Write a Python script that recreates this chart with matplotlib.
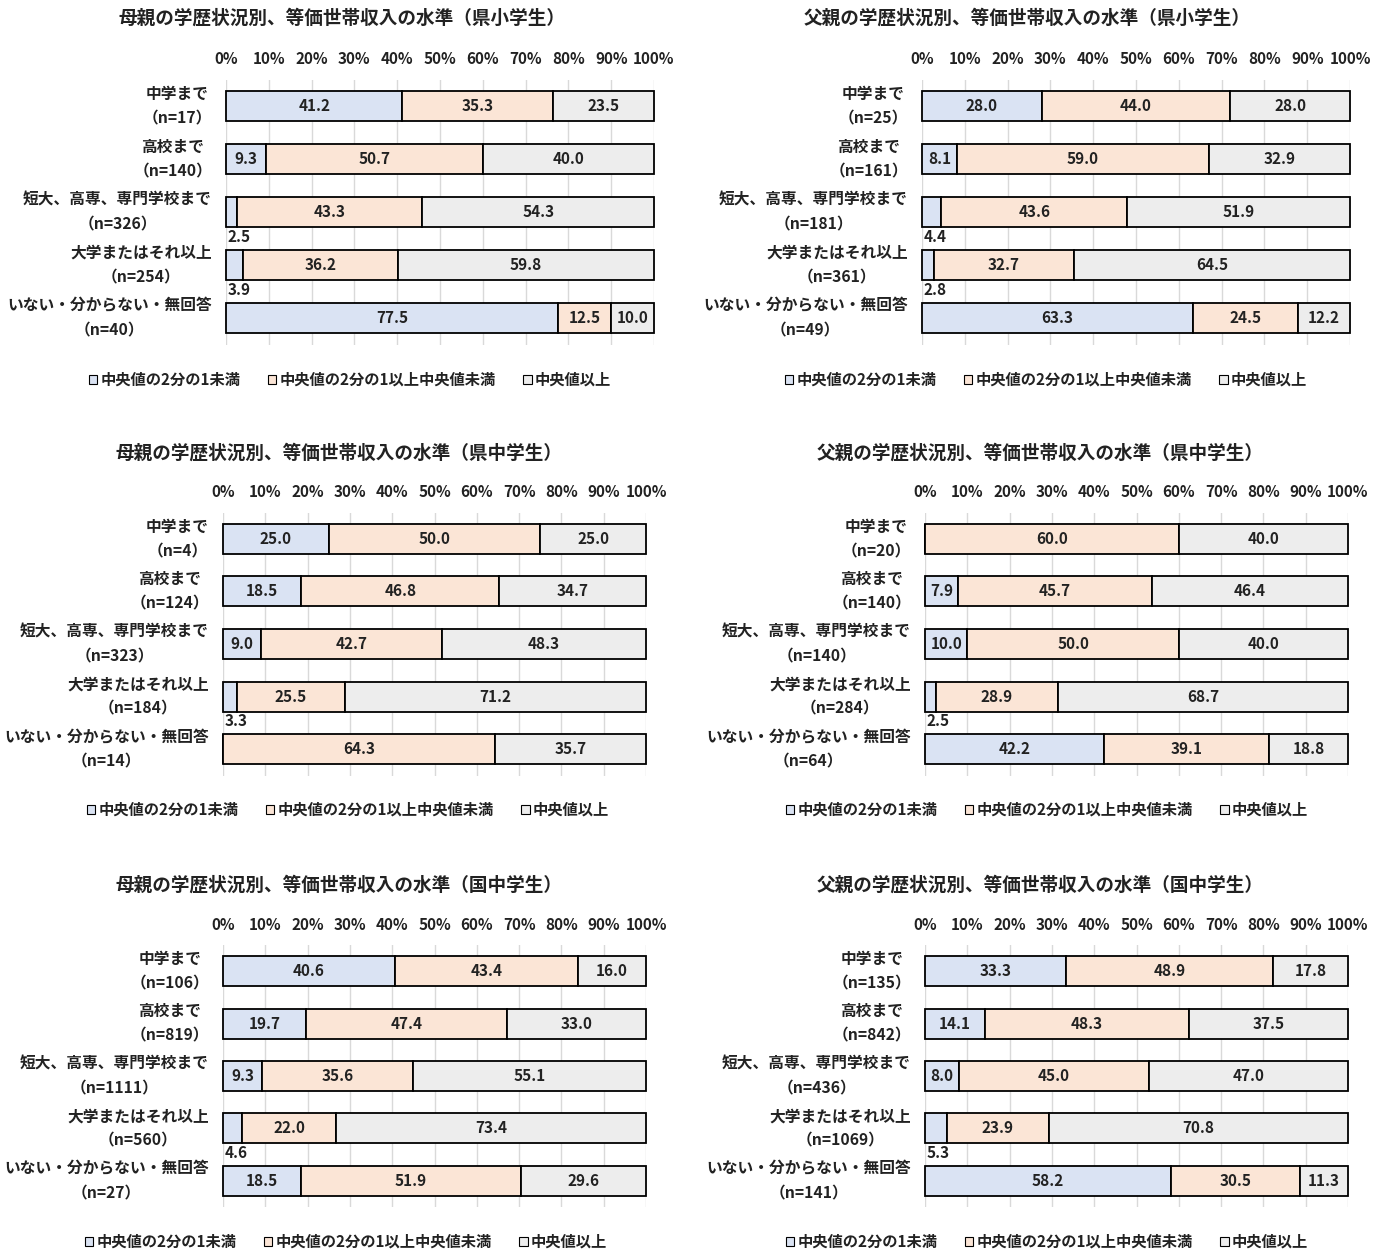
import matplotlib
matplotlib.use("Agg")
import matplotlib.pyplot as plt
from matplotlib.patches import Patch

plt.rcParams['font.family'] = ['Noto Sans CJK JP', 'DejaVu Sans']
plt.rcParams['font.weight'] = 'bold'

# ---- data ----
categories = ["中学まで", "高校まで", "短大、高専、専門学校まで", "大学またはそれ以上", "いない・分からない・無回答"]
series_names = ["中央値の2分の1未満", "中央値の2分の1以上中央値未満", "中央値以上"]

titles = [
    "母親の学歴状況別、等価世帯収入の水準（県小学生）",
    "父親の学歴状況別、等価世帯収入の水準（県小学生）",
    "母親の学歴状況別、等価世帯収入の水準（県中学生）",
    "父親の学歴状況別、等価世帯収入の水準（県中学生）",
    "母親の学歴状況別、等価世帯収入の水準（国中学生）",
    "父親の学歴状況別、等価世帯収入の水準（国中学生）",
]

n_mother_pref_elem = [17, 140, 326, 254, 40]
low_mother_pref_elem = [41.2, 9.3, 2.5, 3.9, 77.5]
mid_mother_pref_elem = [35.3, 50.7, 43.3, 36.2, 12.5]
high_mother_pref_elem = [23.5, 40.0, 54.3, 59.8, 10.0]

n_father_pref_elem = [25, 161, 181, 361, 49]
low_father_pref_elem = [28.0, 8.1, 4.4, 2.8, 63.3]
mid_father_pref_elem = [44.0, 59.0, 43.6, 32.7, 24.5]
high_father_pref_elem = [28.0, 32.9, 51.9, 64.5, 12.2]

n_mother_pref_jh = [4, 124, 323, 184, 14]
low_mother_pref_jh = [25.0, 18.5, 9.0, 3.3, 0.0]
mid_mother_pref_jh = [50.0, 46.8, 42.7, 25.5, 64.3]
high_mother_pref_jh = [25.0, 34.7, 48.3, 71.2, 35.7]

n_father_pref_jh = [20, 140, 140, 284, 64]
low_father_pref_jh = [0.0, 7.9, 10.0, 2.5, 42.2]
mid_father_pref_jh = [60.0, 45.7, 50.0, 28.9, 39.1]
high_father_pref_jh = [40.0, 46.4, 40.0, 68.7, 18.8]

n_mother_nat_jh = [106, 819, 1111, 560, 27]
low_mother_nat_jh = [40.6, 19.7, 9.3, 4.6, 18.5]
mid_mother_nat_jh = [43.4, 47.4, 35.6, 22.0, 51.9]
high_mother_nat_jh = [16.0, 33.0, 55.1, 73.4, 29.6]

n_father_nat_jh = [135, 842, 436, 1069, 141]
low_father_nat_jh = [33.3, 14.1, 8.0, 5.3, 58.2]
mid_father_nat_jh = [48.9, 48.3, 45.0, 23.9, 30.5]
high_father_nat_jh = [17.8, 37.5, 47.0, 70.8, 11.3]

panels = [
    (n_mother_pref_elem, low_mother_pref_elem, mid_mother_pref_elem, high_mother_pref_elem),
    (n_father_pref_elem, low_father_pref_elem, mid_father_pref_elem, high_father_pref_elem),
    (n_mother_pref_jh, low_mother_pref_jh, mid_mother_pref_jh, high_mother_pref_jh),
    (n_father_pref_jh, low_father_pref_jh, mid_father_pref_jh, high_father_pref_jh),
    (n_mother_nat_jh, low_mother_nat_jh, mid_mother_nat_jh, high_mother_nat_jh),
    (n_father_nat_jh, low_father_nat_jh, mid_father_nat_jh, high_father_nat_jh),
]

# ---- styling ----
colors = ["#DAE3F3", "#FBE5D6", "#EDEDED"]
W, H = 1385, 1251
# axes boxes in pixels: left, right, top, bottom
boxes = [
    (226, 654, 79.5, 344.5),
    (922, 1350, 79.5, 344.5),
    (223, 646, 512.5, 775.5),
    (925, 1348, 512.5, 775.5),
    (223, 646, 945, 1207),
    (925, 1348, 945, 1207),
]
title_pos = [(342, 18), (1027, 18), (339, 453), (1040, 453), (339, 885), (1040, 885)]
legend_pos = [(350, 380), (1046, 380), (348, 810), (1047, 810), (346, 1242), (1047, 1242)]

fig = plt.figure(figsize=(W / 100, H / 100), dpi=100)

label_fs = 11.3
value_fs = 11.0
for i, (ns, low, mid, high) in enumerate(panels):
    l, r, t, b = boxes[i]
    ax = fig.add_axes([l / W, 1 - b / H, (r - l) / W, (b - t) / H])
    ypos = list(range(len(categories)))
    left = [0.0] * len(categories)
    for vals, col in zip((low, mid, high), colors):
        ax.barh(ypos, vals, left=left, height=0.57, color=col,
                edgecolor="black", linewidth=1.3, zorder=3, clip_on=False)
        for y, v, lf in zip(ypos, vals, left):
            if v <= 0:
                continue
            if v < 6:
                ax.text(lf + 0.3, y + 0.47, f"{v:.1f}", ha="left", va="center",
                        fontsize=value_fs, fontweight="bold", color="#222222", zorder=4)
            else:
                ax.text(lf + v / 2, y, f"{v:.1f}", ha="center", va="center",
                        fontsize=value_fs, fontweight="bold", color="#222222", zorder=4)
        left = [a + v for a, v in zip(left, vals)]

    ax.set_xlim(0, 100)
    ax.set_ylim(len(categories) - 0.5, -0.5)
    ax.set_xticks(range(0, 101, 10))
    ax.set_xticklabels([f"{v}%" for v in range(0, 101, 10)], fontsize=value_fs,
                       fontweight="bold", color="#222222")
    ax.xaxis.tick_top()
    ax.tick_params(axis="x", length=0, pad=9)
    ax.set_yticks(ypos)
    ax.set_yticklabels([f"{c}\n（n={n}）" for c, n in zip(categories, ns)],
                       fontsize=label_fs, fontweight="bold", color="#222222",
                       multialignment="center", linespacing=1.65, va="center")
    for lab in ax.get_yticklabels():
        lab.set_y(lab.get_position()[1])
    ax.tick_params(axis="y", length=0, pad=10)
    ax.grid(axis="x", color="#D9D9D9", linewidth=1.0, zorder=0)
    for s in ax.spines.values():
        s.set_visible(False)

    tx, ty = title_pos[i]
    fig.text(tx / W, 1 - ty / H, titles[i], ha="center", va="center",
             fontsize=13.4, fontweight="bold", color="#222222")

    handles = [Patch(facecolor=c, edgecolor="black", linewidth=0.8) for c in colors]
    lx, ly = legend_pos[i]
    fig.legend(handles, series_names, loc="center", bbox_to_anchor=(lx / W, 1 - ly / H),
               ncol=3, frameon=False, handlelength=0.55, handleheight=0.55,
               handletextpad=0.2, columnspacing=1.8,
               prop={"size": value_fs, "weight": "bold"}, labelcolor="#222222")

fig.savefig("out.png", dpi=100, facecolor="white")
